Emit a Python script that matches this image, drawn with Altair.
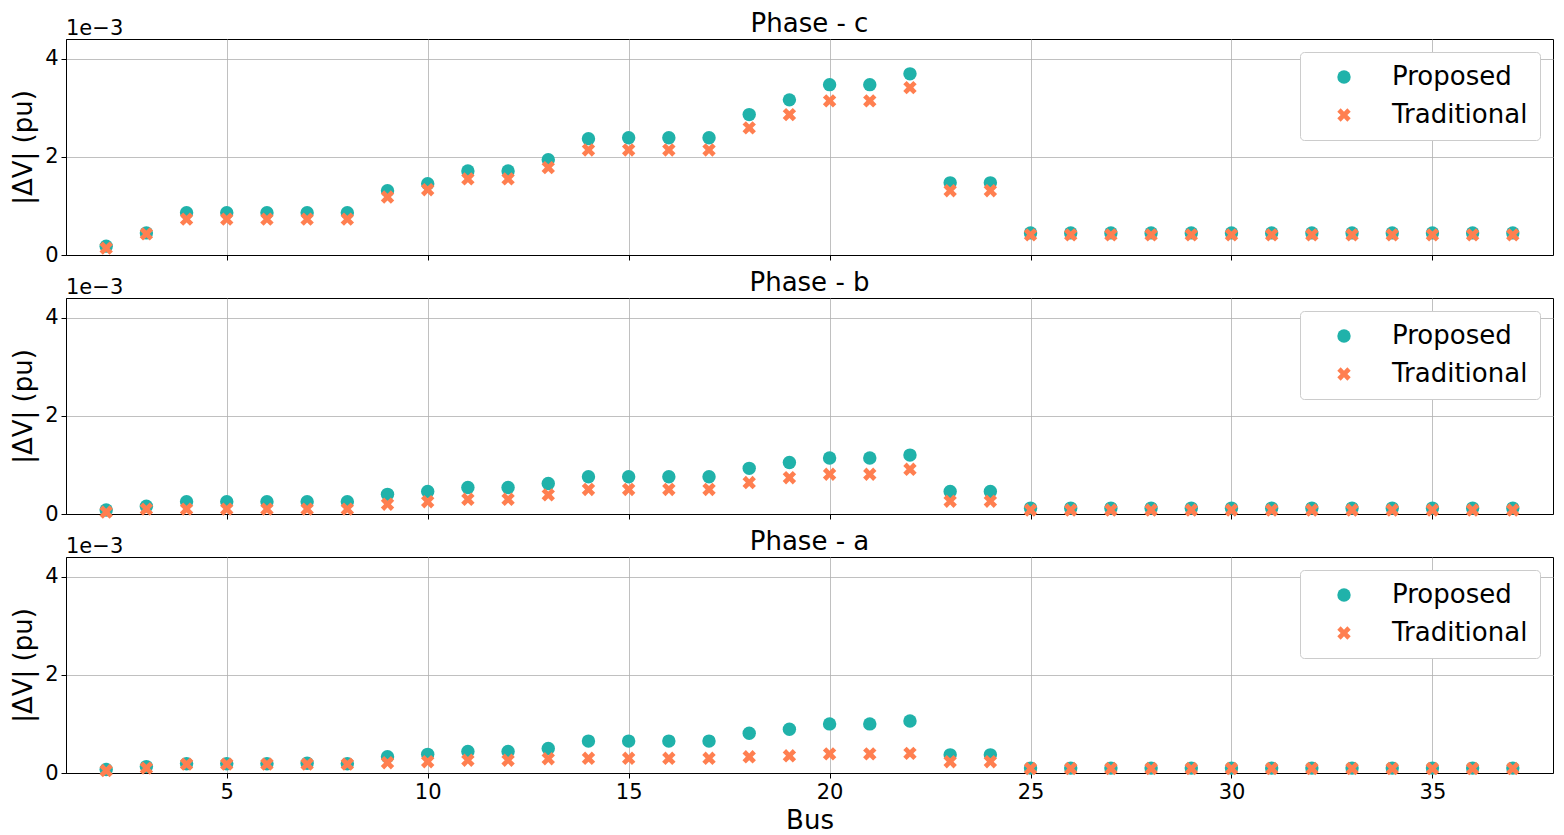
import altair as alt
import pandas as pd

bus = list(range(2, 38))
methods = ["Proposed", "Traditional"]
colors = ["#20b2aa", "#ff7f50"]
x_ticks = [5, 10, 15, 20, 25, 30, 35]
y_ticks = [0, 0.002, 0.004]
phase_titles = ["Phase - c", "Phase - b", "Phase - a"]

# values in units of 1e-3 pu, buses 2..37
c_prop = [0.18, 0.45, 0.86, 0.86, 0.86, 0.86, 0.86, 1.31, 1.45, 1.71, 1.71, 1.94,
          2.37, 2.39, 2.39, 2.39, 2.86, 3.16, 3.47, 3.47, 3.69, 1.47, 1.47,
          0.45, 0.45, 0.45, 0.45, 0.45, 0.45, 0.45, 0.45, 0.45, 0.45, 0.45, 0.45, 0.45]
c_trad = [0.14, 0.43, 0.73, 0.73, 0.73, 0.73, 0.73, 1.18, 1.33, 1.55, 1.55, 1.78,
          2.14, 2.14, 2.14, 2.14, 2.59, 2.86, 3.14, 3.14, 3.41, 1.31, 1.31,
          0.41, 0.41, 0.41, 0.41, 0.41, 0.41, 0.41, 0.41, 0.41, 0.41, 0.41, 0.41, 0.41]
b_prop = [0.08, 0.16, 0.25, 0.25, 0.25, 0.25, 0.25, 0.40, 0.46, 0.54, 0.54, 0.62,
          0.76, 0.76, 0.76, 0.76, 0.93, 1.05, 1.14, 1.14, 1.20, 0.46, 0.46,
          0.12, 0.12, 0.12, 0.12, 0.12, 0.12, 0.12, 0.12, 0.12, 0.12, 0.12, 0.12, 0.12]
b_trad = [0.04, 0.10, 0.10, 0.10, 0.10, 0.10, 0.10, 0.20, 0.25, 0.30, 0.30, 0.39,
          0.50, 0.50, 0.50, 0.50, 0.64, 0.74, 0.81, 0.81, 0.91, 0.26, 0.26,
          0.08, 0.08, 0.08, 0.08, 0.08, 0.08, 0.08, 0.08, 0.08, 0.08, 0.08, 0.08, 0.08]
a_prop = [0.07, 0.13, 0.19, 0.19, 0.19, 0.20, 0.19, 0.33, 0.38, 0.44, 0.44, 0.50,
          0.65, 0.65, 0.65, 0.65, 0.81, 0.89, 1.00, 1.00, 1.06, 0.37, 0.37,
          0.10, 0.10, 0.10, 0.10, 0.10, 0.10, 0.10, 0.10, 0.10, 0.10, 0.10, 0.10, 0.10]
a_trad = [0.05, 0.10, 0.18, 0.18, 0.18, 0.18, 0.18, 0.21, 0.23, 0.26, 0.26, 0.29,
          0.30, 0.30, 0.30, 0.30, 0.33, 0.35, 0.39, 0.39, 0.40, 0.23, 0.23,
          0.09, 0.09, 0.09, 0.09, 0.09, 0.09, 0.09, 0.09, 0.09, 0.09, 0.09, 0.09, 0.09]

X_PATH = ("M-0.5,-1L0,-0.5L0.5,-1L1,-0.5L0.5,0L1,0.5L0.5,1L0,0.5"
          "L-0.5,1L-1,0.5L-0.5,0L-1,-0.5Z")

FONT = "DejaVu Sans"


def panel(title, prop, trad, bottom):
    df = pd.DataFrame({
        "Bus": bus + bus,
        "V": [v * 1e-3 for v in prop + trad],
        "Method": [methods[0]] * len(prop) + [methods[1]] * len(trad),
    })
    if bottom:
        xaxis = alt.Axis(values=x_ticks, title="Bus", titlePadding=5)
    else:
        xaxis = alt.Axis(values=x_ticks, labels=False, title=None)
    legend = alt.Legend(title=None, orient="top-right")
    pts = alt.Chart(df).mark_point(filled=True, size=180, opacity=1, strokeWidth=0).encode(
        x=alt.X("Bus:Q", scale=alt.Scale(domain=[1, 38], nice=False, zero=False), axis=xaxis),
        y=alt.Y("V:Q", scale=alt.Scale(domain=[0, 0.0044], nice=False),
                axis=alt.Axis(values=y_ticks, labelExpr="format(datum.value*1000, 'd')",
                              title="|ΔV| (pu)", titlePadding=8)),
        color=alt.Color("Method:N", scale=alt.Scale(domain=methods, range=colors), legend=legend),
        shape=alt.Shape("Method:N", scale=alt.Scale(domain=methods, range=["circle", X_PATH]),
                        legend=legend),
    )
    off = alt.Chart(pd.DataFrame({"t": ["1e\u22123"]})).mark_text(
        align="left", baseline="alphabetic", fontSize=21, font=FONT, color="black"
    ).encode(text="t:N", x=alt.value(0), y=alt.value(-4))
    return alt.layer(pts, off).properties(
        width=1487, height=216,
        title=alt.TitleParams(title, anchor="middle"),
    )


chart = alt.vconcat(
    panel(phase_titles[0], c_prop, c_trad, False),
    panel(phase_titles[1], b_prop, b_trad, False),
    panel(phase_titles[2], a_prop, a_trad, True),
    spacing=3,
).resolve_scale(color="independent", shape="independent").properties(
    padding={"left": 2, "top": 2, "right": 0, "bottom": 0}
).configure_axis(
    labelFont=FONT, labelFontSize=21, labelColor="black",
    titleFont=FONT, titleFontSize=26, titleFontWeight="normal", titleColor="black",
    tickColor="black", tickSize=5, labelPadding=3,
    domainColor="black", gridColor="#b0b0b0", gridWidth=0.8,
).configure_view(stroke="black", strokeWidth=1).configure_title(
    font=FONT, fontSize=26, fontWeight="normal", color="black", offset=-19
).configure_legend(
    offset=13, padding=12, strokeColor="#cccccc", fillColor="white", cornerRadius=4,
    labelFont=FONT, labelFontSize=26, labelColor="black", symbolSize=180,
    symbolOffset=19, labelOffset=35, rowPadding=12, symbolStrokeWidth=0,
)

chart.save("out.html", embed_options={"renderer": "svg", "actions": False})
